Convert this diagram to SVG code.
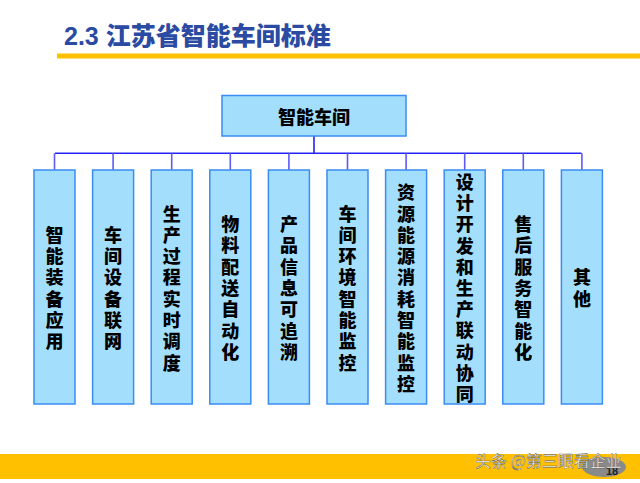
<svg xmlns="http://www.w3.org/2000/svg" width="640" height="483" viewBox="0 0 640 483">
<style>
.t{font-family:"Noto Sans CJK SC","Noto Sans",sans-serif;font-weight:900;fill:#000;text-anchor:middle;dominant-baseline:central}
.n{font-size:18px}
.box{fill:#A3DFFC;stroke:#3A8CF5;stroke-width:1.5}
.c{stroke:#2424F5;stroke-width:1.6;fill:none}
.d{stroke:#5C5CF5;stroke-width:1.6;fill:none}
</style>
<rect width="640" height="483" fill="#fff"/>
<text x="64" y="45" style="font-family:'Liberation Sans','Noto Sans CJK SC',sans-serif;font-weight:700;font-size:25px;fill:#2B4BA3">2.3 <tspan style="font-family:'Noto Sans CJK SC',sans-serif;font-weight:900">江苏省智能车间标准</tspan></text>
<rect x="57" y="53.5" width="583" height="5" fill="#FFC000"/>
<rect x="0" y="454" width="640" height="25" fill="#FFC000"/>
<g id="connectors">
<path class="c" d="M314 136V153.3M55 153.3H581.5"/>
<path class="d" d="M54.5 153.3V170M113.1 153.3V170M171.7 153.3V170M230.3 153.3V170M288.9 153.3V170M347.5 153.3V170M406.1 153.3V170M464.7 153.3V170M523.3 153.3V170M581.9 153.3V170"/>
</g>
<g id="root"><rect class="box" x="222" y="95.5" width="184" height="40.5"/><text class="t" x="314" y="116" font-size="18">智能车间</text></g>
<g id="n1"><rect class="box" x="34" y="170" width="41" height="234"/><text class="t n" x="54.5"><tspan x="54.5" y="233.8">智</tspan><tspan x="54.5" dy="21.3">能</tspan><tspan x="54.5" dy="21.3">装</tspan><tspan x="54.5" dy="21.3">备</tspan><tspan x="54.5" dy="21.3">应</tspan><tspan x="54.5" dy="21.3">用</tspan></text></g>
<g id="n2"><rect class="box" x="92.6" y="170" width="41" height="234"/><text class="t n"><tspan x="113.1" y="233.8">车</tspan><tspan x="113.1" dy="21.3">间</tspan><tspan x="113.1" dy="21.3">设</tspan><tspan x="113.1" dy="21.3">备</tspan><tspan x="113.1" dy="21.3">联</tspan><tspan x="113.1" dy="21.3">网</tspan></text></g>
<g id="n3"><rect class="box" x="151.2" y="170" width="41" height="234"/><text class="t n"><tspan x="171.7" y="212.5">生</tspan><tspan x="171.7" dy="21.3">产</tspan><tspan x="171.7" dy="21.3">过</tspan><tspan x="171.7" dy="21.3">程</tspan><tspan x="171.7" dy="21.3">实</tspan><tspan x="171.7" dy="21.3">时</tspan><tspan x="171.7" dy="21.3">调</tspan><tspan x="171.7" dy="21.3">度</tspan></text></g>
<g id="n4"><rect class="box" x="209.8" y="170" width="41" height="234"/><text class="t n"><tspan x="230.3" y="223.1">物</tspan><tspan x="230.3" dy="21.3">料</tspan><tspan x="230.3" dy="21.3">配</tspan><tspan x="230.3" dy="21.3">送</tspan><tspan x="230.3" dy="21.3">自</tspan><tspan x="230.3" dy="21.3">动</tspan><tspan x="230.3" dy="21.3">化</tspan></text></g>
<g id="n5"><rect class="box" x="268.4" y="170" width="41" height="234"/><text class="t n"><tspan x="288.9" y="223.1">产</tspan><tspan x="288.9" dy="21.3">品</tspan><tspan x="288.9" dy="21.3">信</tspan><tspan x="288.9" dy="21.3">息</tspan><tspan x="288.9" dy="21.3">可</tspan><tspan x="288.9" dy="21.3">追</tspan><tspan x="288.9" dy="21.3">溯</tspan></text></g>
<g id="n6"><rect class="box" x="327" y="170" width="41" height="234"/><text class="t n"><tspan x="347.5" y="212.5">车</tspan><tspan x="347.5" dy="21.3">间</tspan><tspan x="347.5" dy="21.3">环</tspan><tspan x="347.5" dy="21.3">境</tspan><tspan x="347.5" dy="21.3">智</tspan><tspan x="347.5" dy="21.3">能</tspan><tspan x="347.5" dy="21.3">监</tspan><tspan x="347.5" dy="21.3">控</tspan></text></g>
<g id="n7"><rect class="box" x="385.6" y="170" width="41" height="234"/><text class="t n"><tspan x="406.1" y="191.2">资</tspan><tspan x="406.1" dy="21.3">源</tspan><tspan x="406.1" dy="21.3">能</tspan><tspan x="406.1" dy="21.3">源</tspan><tspan x="406.1" dy="21.3">消</tspan><tspan x="406.1" dy="21.3">耗</tspan><tspan x="406.1" dy="21.3">智</tspan><tspan x="406.1" dy="21.3">能</tspan><tspan x="406.1" dy="21.3">监</tspan><tspan x="406.1" dy="21.3">控</tspan></text></g>
<g id="n8"><rect class="box" x="444.2" y="170" width="41" height="234"/><text class="t n"><tspan x="464.7" y="181">设</tspan><tspan x="464.7" dy="21.2">计</tspan><tspan x="464.7" dy="21.2">开</tspan><tspan x="464.7" dy="21.2">发</tspan><tspan x="464.7" dy="21.2">和</tspan><tspan x="464.7" dy="21.2">生</tspan><tspan x="464.7" dy="21.2">产</tspan><tspan x="464.7" dy="21.2">联</tspan><tspan x="464.7" dy="21.2">动</tspan><tspan x="464.7" dy="21.2">协</tspan><tspan x="464.7" dy="21.2">同</tspan></text></g>
<g id="n9"><rect class="box" x="502.8" y="170" width="41" height="234"/><text class="t n"><tspan x="523.3" y="223.1">售</tspan><tspan x="523.3" dy="21.3">后</tspan><tspan x="523.3" dy="21.3">服</tspan><tspan x="523.3" dy="21.3">务</tspan><tspan x="523.3" dy="21.3">智</tspan><tspan x="523.3" dy="21.3">能</tspan><tspan x="523.3" dy="21.3">化</tspan></text></g>
<g id="n10"><rect class="box" x="561.4" y="170" width="41" height="234"/><text class="t n"><tspan x="581.9" y="276.3">其</tspan><tspan x="581.9" dy="21.3">他</tspan></text></g>
<ellipse cx="604" cy="467" rx="22" ry="10" fill="#8A8A8A"/>
<text x="612" y="475" style="font-family:'Liberation Sans',sans-serif;font-size:11px;font-weight:700;fill:#222;text-anchor:middle">18</text>
<text x="475" y="467" style="font-family:'Noto Sans CJK SC',sans-serif;font-size:16px;fill:#fff;stroke:#555;stroke-width:0.4">头条 @第三眼看企业</text>
</svg>
